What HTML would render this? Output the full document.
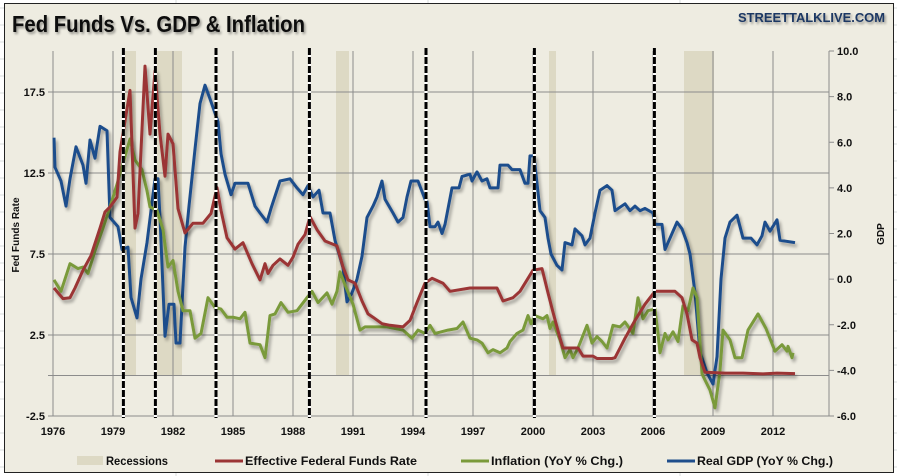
<!DOCTYPE html>
<html><head><meta charset="utf-8">
<style>
html,body{margin:0;padding:0;background:#fff;overflow:hidden;width:897px;height:476px;}
svg{display:block;font-family:"Liberation Sans",sans-serif;}
</style></head>
<body>
<svg id="chart" width="897" height="476" viewBox="0 0 897 476" xmlns="http://www.w3.org/2000/svg">
<defs>
<filter id="sh" x="-5%" y="-5%" width="110%" height="110%"><feGaussianBlur in="SourceAlpha" stdDeviation="1.5"/><feOffset dx="2" dy="3" result="b"/><feComponentTransfer><feFuncA type="linear" slope="0.35"/></feComponentTransfer><feMerge><feMergeNode/><feMergeNode in="SourceGraphic"/></feMerge></filter>
<filter id="tsh"><feGaussianBlur in="SourceAlpha" stdDeviation="1.2"/><feOffset dx="1.5" dy="2"/><feComponentTransfer><feFuncA type="linear" slope="0.4"/></feComponentTransfer><feMerge><feMergeNode/><feMergeNode in="SourceGraphic"/></feMerge></filter>
</defs>
<g id="sheet" stroke="#dadcdd" stroke-width="1"></g>
<rect x="4.5" y="3.5" width="889" height="469" fill="#EEECE1" stroke="#222" stroke-width="1"/>
<text x="12" y="32" font-size="23" font-weight="bold" fill="#111" filter="url(#tsh)" textLength="293" lengthAdjust="spacingAndGlyphs">Fed Funds Vs. GDP &amp; Inflation</text>
<text x="738" y="22" font-size="13" font-weight="bold" fill="#1F3864" filter="url(#tsh)" textLength="147" lengthAdjust="spacingAndGlyphs">STREETTALKLIVE.COM</text>
<g id="plot"></g>
</svg>
<script>
var recessions=[[1979.6,1980.15],[1981.2,1982.45],[1990.15,1990.8],[2000.8,2001.15],[2007.55,2009.05]];
var dashedYears=[1979.52,1981.12,1984.15,1988.82,1994.65,2000.07,2006.07];
var xTicks=[1976,1979,1982,1985,1988,1991,1994,1997,2000,2003,2006,2009,2012];
var leftTicks=[-2.5,2.5,7.5,12.5,17.5];
var rightTicks=[-6,-4,-2,0,2,4,6,8,10];
var fedYears=[1976.05,1976.5,1976.85,1977.1,1977.5,1977.9,1978.35,1978.6,1978.85,1979.2,1979.35,1979.85,1980.1,1980.25,1980.6,1980.85,1981.1,1981.35,1981.6,1981.75,1982.0,1982.25,1982.6,1983.0,1983.5,1983.9,1984.2,1984.4,1984.7,1985.1,1985.5,1985.95,1986.35,1986.6,1986.75,1987.0,1987.35,1987.75,1988.0,1988.25,1988.6,1988.85,1989.2,1989.6,1990.2,1990.5,1990.75,1991.1,1991.45,1991.75,1992.0,1992.45,1992.85,1993.5,1993.85,1994.2,1994.6,1994.95,1995.5,1995.85,1996.85,1998.2,1998.5,1999.0,1999.35,2000.0,2000.45,2000.75,2001.0,2001.35,2001.5,2002.25,2002.5,2003.0,2003.2,2003.95,2004.1,2004.35,2004.6,2005.1,2005.6,2006.1,2007.1,2007.45,2007.7,2007.95,2008.2,2008.35,2008.6,2009.6,2010.5,2011.5,2012.2,2013.1];
var fedVals=[5.4,4.75,4.8,5.4,6.5,7.4,9.1,10.1,10.4,11.0,13.8,17.6,9.1,10.0,19.1,14.9,18.8,14.9,12.3,14.9,14.3,10.3,8.8,9.4,9.4,10.0,11.6,10.2,8.5,7.8,8.2,6.9,5.9,6.9,6.3,6.8,7.2,6.8,7.3,8.1,8.7,9.8,9.0,8.3,8.0,6.7,5.9,5.7,4.6,3.8,3.6,3.2,3.1,3.0,3.4,4.5,5.7,6.0,5.7,5.2,5.4,5.4,4.6,4.8,5.2,6.5,6.6,5.1,3.9,2.3,1.7,1.7,1.2,1.2,1.05,1.05,1.1,1.7,2.3,3.4,4.4,5.2,5.2,4.8,3.8,2.2,2.0,1.1,0.2,0.15,0.15,0.1,0.15,0.12];
var infYears=[1976.05,1976.4,1976.85,1977.25,1977.5,1977.75,1978.1,1978.5,1978.85,1979.2,1979.5,1979.85,1980.1,1980.45,1980.7,1980.85,1981.2,1981.5,1981.75,1982.0,1982.25,1982.5,1982.85,1983.1,1983.4,1983.75,1984.1,1984.4,1984.7,1985.0,1985.35,1985.6,1985.85,1986.35,1986.6,1986.85,1987.1,1987.4,1987.75,1988.2,1988.7,1988.95,1989.25,1989.7,1989.95,1990.2,1990.35,1990.6,1991.0,1991.35,1991.6,1992.0,1992.7,1993.5,1993.95,1994.25,1994.6,1994.85,1995.1,1995.75,1996.2,1996.5,1996.85,1997.2,1997.45,1997.75,1998.0,1998.35,1998.7,1998.85,1999.2,1999.5,1999.75,1999.9,2000.1,2000.5,2000.7,2000.85,2001.0,2001.35,2001.6,2001.85,2002.0,2002.25,2002.7,2002.95,2003.2,2003.45,2003.7,2004.0,2004.35,2004.6,2005.0,2005.25,2005.5,2005.75,2006.1,2006.25,2006.35,2006.6,2006.75,2007.0,2007.25,2007.5,2007.75,2008.0,2008.2,2008.45,2008.85,2009.1,2009.35,2009.5,2009.85,2010.1,2010.45,2010.75,2011.25,2011.65,2012.1,2012.45,2012.7,2012.75,2012.95,2013.0];
var infVals=[5.9,5.2,6.9,6.6,6.7,6.3,7.7,9.1,10.4,11.8,13.1,14.6,13.3,12.7,11.4,10.4,10.2,9.0,6.7,7.1,5.2,4.0,4.0,2.3,2.6,4.8,4.2,4.1,3.6,3.6,3.5,3.9,2.0,1.9,1.1,3.7,3.8,4.5,3.9,4.0,4.8,5.2,4.5,5.1,4.4,5.2,6.4,5.6,4.4,2.8,3.0,3.0,3.0,2.8,2.3,2.8,2.6,3.1,2.6,2.8,2.9,3.3,2.3,2.2,2.0,1.4,1.6,1.4,1.7,2.1,2.6,2.8,3.7,3.2,3.7,3.5,3.7,2.9,3.3,2.2,1.1,1.6,1.1,1.7,3.1,2.0,2.4,2.1,1.7,3.1,3.0,3.3,2.6,4.8,3.5,4.0,4.1,2.6,1.4,2.6,2.2,2.7,2.1,4.3,4.0,5.4,4.8,0.1,-0.9,-2.0,0.3,2.8,2.2,1.1,1.1,2.8,3.8,2.9,1.5,1.9,1.5,1.8,1.1,1.4];
var gdpYears=[1976.05,1976.1,1976.4,1976.65,1976.85,1977.15,1977.5,1977.65,1977.85,1978.1,1978.35,1978.7,1978.85,1979.25,1979.45,1979.75,1979.9,1980.2,1980.4,1980.7,1981.1,1981.25,1981.35,1981.6,1981.8,1982.05,1982.15,1982.35,1982.6,1982.8,1983.1,1983.35,1983.6,1983.85,1984.25,1984.4,1984.6,1984.9,1985.1,1985.75,1986.1,1986.35,1986.7,1986.9,1987.35,1987.85,1988.2,1988.5,1988.75,1989.0,1989.3,1989.5,1989.85,1990.1,1990.5,1990.7,1990.95,1991.2,1991.45,1991.7,1992.0,1992.2,1992.45,1992.6,1993.0,1993.25,1993.5,1993.7,1993.9,1994.25,1994.6,1994.7,1994.85,1995.1,1995.25,1995.45,1995.6,1995.95,1996.3,1996.45,1996.85,1996.95,1997.2,1997.45,1997.7,1997.85,1998.25,1998.35,1998.75,1998.95,1999.35,1999.6,1999.75,1999.85,2000.05,2000.2,2000.35,2000.6,2000.75,2000.9,2001.2,2001.45,2001.6,2001.95,2002.1,2002.45,2002.6,2002.85,2003.1,2003.35,2003.7,2003.95,2004.1,2004.6,2004.85,2005.1,2005.35,2005.6,2006.0,2006.1,2006.45,2006.6,2006.85,2007.2,2007.45,2007.7,2007.85,2008.1,2008.35,2008.7,2009.0,2009.2,2009.4,2009.6,2009.85,2010.2,2010.5,2010.9,2011.2,2011.45,2011.6,2011.85,2012.2,2012.35,2013.1];
var gdpVals=[6.2,4.9,4.3,3.2,4.4,5.8,5.0,4.2,6.1,5.3,6.7,6.5,2.7,2.3,1.3,1.4,-0.8,-1.7,0.0,1.6,4.4,4.4,2.7,-2.5,-1.1,-1.1,-2.8,-2.8,1.4,3.2,5.7,7.7,8.5,7.9,6.9,5.5,4.6,3.7,4.2,4.2,3.2,2.9,2.5,3.1,4.3,4.4,4.0,3.7,4.1,3.6,3.9,2.9,2.9,1.7,0.5,-1.0,-0.6,0.0,1.0,2.7,3.2,3.6,4.3,3.5,2.9,2.5,2.7,3.6,4.3,4.3,3.5,3.4,2.3,2.3,2.5,2.0,2.4,4.0,4.0,4.5,4.6,4.3,4.7,4.3,4.4,4.0,4.0,5.0,5.0,4.8,4.8,4.2,4.2,5.4,5.4,4.2,3.0,2.7,1.8,1.1,0.6,0.4,1.6,1.5,2.2,1.9,1.5,1.8,2.9,3.9,4.1,3.9,3.0,3.3,3.0,3.2,3.0,3.1,2.9,2.4,2.4,1.3,1.8,2.5,2.2,1.6,1.1,-0.6,-3.2,-4.1,-4.6,-3.4,0.0,1.8,2.5,2.8,1.8,1.8,1.5,1.9,2.5,2.1,2.6,1.7,1.6];

var NS="http://www.w3.org/2000/svg";
var L=53,R=829,T=51,B=416;
function x(yr){return L+(yr-1976)*20;}
function yl(v){return B-(v+2.5)*16.2;}
function yr(v){return B-(v+6)*(B-T)/16;}
function mk(tag,attrs,parent){var e=document.createElementNS(NS,tag);for(var k in attrs)e.setAttribute(k,attrs[k]);(parent||plot).appendChild(e);return e;}
var plot=document.getElementById('plot');
var sheet=document.getElementById('sheet');
for(var i=0;i<28;i++){mk('line',{x1:0,x2:897,y1:i*17+8,y2:i*17+8},sheet);}
[176,428,680].forEach(function(px){mk('line',{x1:px,x2:px,y1:0,y2:476},sheet);});

recessions.forEach(function(r){
  var e=mk('rect',{x:x(r[0]),y:T,width:x(r[1])-x(r[0]),height:yl(0)-T,fill:'#DDD9C4'});
  
  
});
xTicks.forEach(function(t){
  var e=mk('line',{x1:x(t),x2:x(t),y1:T,y2:B,stroke:'#8c8c8c','stroke-width':1});
  
  
  var tx=mk('text',{x:x(t),y:B+19,'font-size':11,'font-weight':'bold','text-anchor':'middle',fill:'#111'});
  tx.textContent=t;
  
  
});
leftTicks.concat([0]).forEach(function(v){
  var e=mk('line',{x1:L-5,x2:R,y1:yl(v),y2:yl(v),stroke:'#8c8c8c','stroke-width':1});
  
  
});
leftTicks.forEach(function(v){
  var tx=mk('text',{x:L-8,y:yl(v)+4,'font-size':11,'font-weight':'bold','text-anchor':'end',fill:'#111'});
  tx.textContent=v.toFixed(1);
  
  
});
mk('line',{x1:R,x2:R,y1:T,y2:B,stroke:'#8c8c8c'});
rightTicks.forEach(function(v){
  mk('line',{x1:R,x2:R+5,y1:yr(v),y2:yr(v),stroke:'#8c8c8c'});
  var tx=mk('text',{x:R+8,y:yr(v)+4,'font-size':11,'font-weight':'bold',fill:'#111'});
  tx.textContent=v.toFixed(1);
  
  
});
var yt=mk('text',{transform:'translate(19,235) rotate(-90)','font-size':10,'font-weight':'bold','text-anchor':'middle',fill:'#111'});
yt.textContent='Fed Funds Rate';


var yt2=mk('text',{transform:'translate(884,234) rotate(-90)','font-size':10,'font-weight':'bold','text-anchor':'middle',fill:'#111'});
yt2.textContent='GDP';



function line(xs,vs,fy,col,name){
  var d=xs.map(function(t,i){return (i?'L':'M')+x(t).toFixed(1)+' '+fy(vs[i]).toFixed(1);}).join(' ');
  var p=mk('path',{d:d,fill:'none',stroke:col,'stroke-width':3,'stroke-linejoin':'round',filter:'url(#sh)'});
  
  
}
line(gdpYears,gdpVals,yr,'#1F4E8C','gdp-line');
line(infYears,infVals,yl,'#7A9A3A','inflation-line');
line(fedYears,fedVals,yl,'#9B3535','fed-funds-line');

dashedYears.forEach(function(t){
  var xx=x(t);
  mk('line',{x1:xx,x2:xx,y1:T-3,y2:B+2,stroke:'#fff','stroke-width':3});
  var e=mk('line',{x1:xx,x2:xx,y1:T-3,y2:B+2,stroke:'#000','stroke-width':3,'stroke-dasharray':'7,2'});
  
  
});

var lg=mk('g',{});


mk('rect',{x:77,y:456,width:26,height:9,fill:'#DDD9C4'},lg);
var items=[['Recessions',106,null,62],['Effective Federal Funds Rate',245,'#9B3535',172],['Inflation (YoY % Chg.)',491,'#7A9A3A',132],['Real GDP (YoY % Chg.)',697,'#1F4E8C',136]];
items.forEach(function(it){
  if(it[2]) mk('line',{x1:it[1]-30,x2:it[1]-2,y1:461,y2:461,stroke:it[2],'stroke-width':3},lg);
  var tx=mk('text',{x:it[1],y:465,'font-size':12,'font-weight':'bold',fill:'#111',textLength:it[3],lengthAdjust:'spacingAndGlyphs'},lg);
  tx.textContent=it[0];
  
  
});
</script>
</body></html>
